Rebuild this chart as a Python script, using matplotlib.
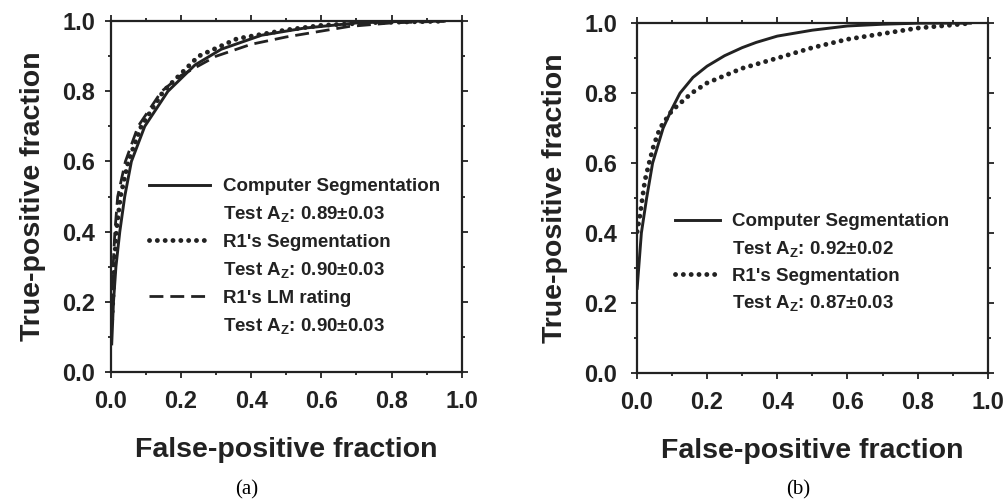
import matplotlib.pyplot as plt
from matplotlib.lines import Line2D
from matplotlib.ticker import MultipleLocator

plt.rcParams['font.family'] = ['Liberation Sans', 'DejaVu Sans']
plt.rcParams['font.weight'] = 'bold'
plt.rcParams['axes.labelweight'] = 'bold'
plt.rcParams['mathtext.fontset'] = 'custom'
plt.rcParams['mathtext.rm'] = 'Liberation Sans:bold'
plt.rcParams['mathtext.it'] = 'Liberation Sans:bold'
plt.rcParams['mathtext.bf'] = 'Liberation Sans:bold'

# (a) curvas
fpf_a_comp = [0.003, 0.008, 0.015, 0.026, 0.04, 0.059, 0.097, 0.163, 0.24, 0.315, 0.43, 0.55, 0.7, 0.85, 0.95]
tpf_a_comp = [0.08, 0.2, 0.3, 0.4, 0.5, 0.6, 0.7, 0.8, 0.875, 0.92, 0.96, 0.98, 0.995, 1.0, 1.0]

fpf_a_r1 = [0.003, 0.006, 0.01, 0.016, 0.028, 0.05, 0.087, 0.15, 0.25, 0.36, 0.5, 0.6, 0.75, 0.95]
tpf_a_r1 = [0.15, 0.2, 0.3, 0.4, 0.5, 0.6, 0.7, 0.8, 0.9, 0.95, 0.975, 0.988, 0.996, 1.0]

fpf_a_lm = [0.003, 0.007, 0.012, 0.02, 0.042, 0.078, 0.145, 0.2, 0.3, 0.4, 0.5, 0.68, 0.8, 0.95]
tpf_a_lm = [0.18, 0.3, 0.4, 0.5, 0.6, 0.7, 0.8, 0.845, 0.9, 0.934, 0.955, 0.985, 0.995, 1.0]

# (b)
fpf_b_comp = [0.001, 0.013, 0.028, 0.045, 0.075, 0.1, 0.123, 0.16, 0.2, 0.25, 0.3, 0.34, 0.4, 0.5, 0.6, 0.7, 0.8, 0.95]
tpf_b_comp = [0.242, 0.4, 0.5, 0.6, 0.7, 0.755, 0.8, 0.845, 0.877, 0.907, 0.93, 0.945, 0.963, 0.98, 0.992, 0.997, 1.0, 1.0]

fpf_b_r1 = [0.001, 0.009, 0.016, 0.023, 0.035, 0.048, 0.066, 0.1, 0.156, 0.2, 0.3, 0.4, 0.5, 0.6, 0.7, 0.8, 0.9, 0.95]
tpf_b_r1 = [0.404, 0.45, 0.5, 0.55, 0.6, 0.65, 0.7, 0.75, 0.8, 0.829, 0.871, 0.9, 0.93, 0.954, 0.97, 0.986, 0.995, 1.0]

etiquetas_a = ["Computer Segmentation", "Test A$_Z$: 0.89\u00b10.03",
               "R1's Segmentation", "Test A$_Z$: 0.90\u00b10.03",
               "R1's LM rating", "Test A$_Z$: 0.90\u00b10.03"]
etiquetas_b = ["Computer Segmentation", "Test A$_Z$: 0.92\u00b10.02",
               "R1's Segmentation", "Test A$_Z$: 0.87\u00b10.03"]

negro = '#222222'
punteado = dict(color=negro, lw=3.5, linestyle=(0, (0.01, 1.6)), dash_capstyle='round')
solido = dict(color=negro, lw=2.1)
rayado = dict(color=negro, lw=2.0, linestyle=(0, (5, 2.5)))

fig = plt.figure(figsize=(10.06, 5.04), dpi=100)
ax1 = fig.add_axes([0.110, 0.262, 0.349, 0.696])
ax2 = fig.add_axes([0.633, 0.260, 0.349, 0.694])


def estilo(ax, ypad):
    ax.set_xlim(0, 1)
    ax.set_ylim(0, 1)
    ax.xaxis.set_major_locator(MultipleLocator(0.2))
    ax.yaxis.set_major_locator(MultipleLocator(0.2))
    ax.xaxis.set_minor_locator(MultipleLocator(0.1))
    ax.yaxis.set_minor_locator(MultipleLocator(0.1))
    ax.tick_params(which='both', direction='out', top=True, right=True, width=1.3, color=negro)
    ax.tick_params(which='major', length=4)
    ax.tick_params(which='minor', length=2.5)
    ax.tick_params(axis='x', pad=9, labelsize=17, labelcolor=negro)
    ax.tick_params(axis='y', pad=ypad, labelsize=17, labelcolor=negro)
    ax.xaxis.set_major_formatter(lambda v, p: f"{v:.1f}")
    ax.yaxis.set_major_formatter(lambda v, p: f"{v:.1f}")
    for s in ax.spines.values():
        s.set_linewidth(1.6)
        s.set_color(negro)
    ax.set_xlabel("False-positive fraction", fontsize=20.5, labelpad=17, color=negro)
    ax.set_ylabel("True-positive fraction", fontsize=20.5, labelpad=12, color=negro)


estilo(ax1, 7)
estilo(ax2, 10)

ax1.plot(fpf_a_comp, tpf_a_comp, **solido)
ax1.plot(fpf_a_r1, tpf_a_r1, **punteado)
ax1.plot(fpf_a_lm, tpf_a_lm, **rayado)

ax2.plot(fpf_b_comp, tpf_b_comp, **solido)
ax2.plot(fpf_b_r1, tpf_b_r1, **punteado)

vacio = Line2D([], [], linestyle='none')
h_a = [Line2D([], [], **solido), vacio, Line2D([], [], **punteado), vacio, Line2D([], [], **rayado), vacio]
h_b = [Line2D([], [], **solido), vacio, Line2D([], [], **punteado), vacio]

ax1.legend(h_a, etiquetas_a, loc='upper left', bbox_to_anchor=(0.108, 0.553), frameon=False,
           fontsize=13.5, handlelength=3.25, handletextpad=0.7, labelspacing=0.5,
           borderpad=0, borderaxespad=0, labelcolor=negro)
ax2.legend(h_b, etiquetas_b, loc='upper left', bbox_to_anchor=(0.108, 0.457), frameon=False,
           fontsize=13.5, handlelength=2.4, handletextpad=0.64, labelspacing=0.46,
           borderpad=0, borderaxespad=0, labelcolor=negro)

fig.text(0.245, 0.018, "(a)", family='Liberation Serif', weight='normal', fontsize=15, ha='center')
fig.text(0.793, 0.018, "(b)", family='Liberation Serif', weight='normal', fontsize=15, ha='center')

fig.savefig("out.png", dpi=100)
